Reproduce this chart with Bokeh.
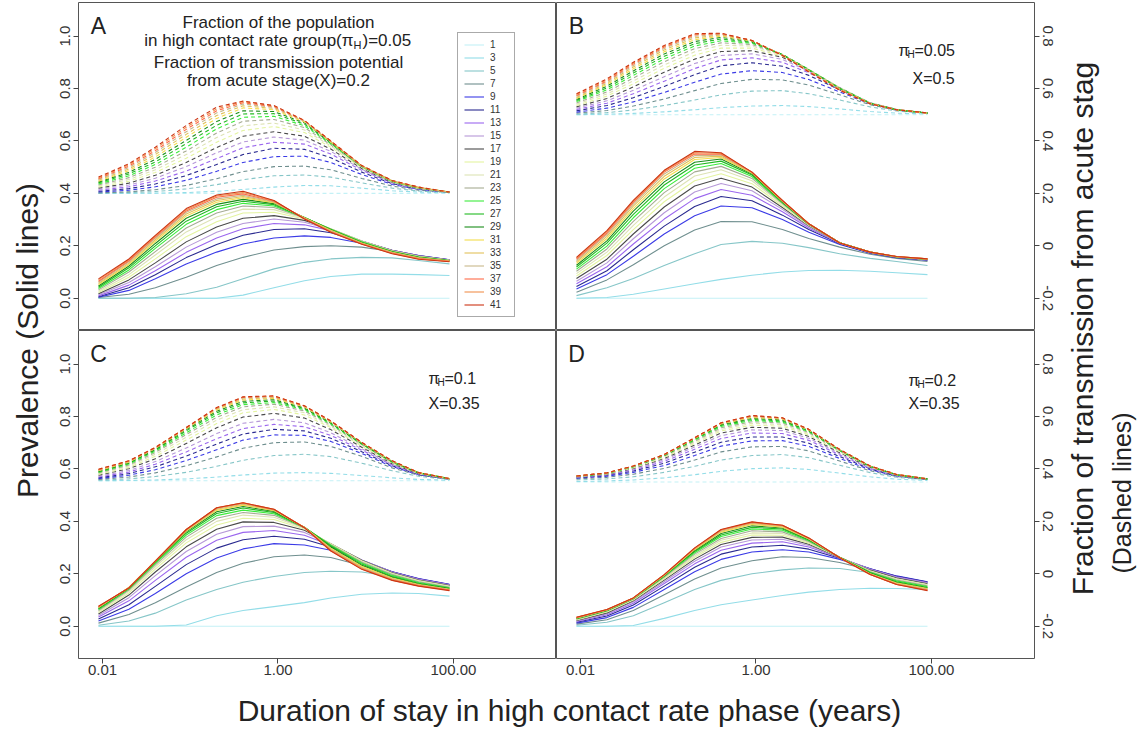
from math import pi
from bokeh.plotting import figure
from bokeh.models import (Range1d, LinearAxis, LogAxis, LogScale, FixedTicker,
                          PrintfTickFormatter, CustomJSTickFormatter, Legend,
                          LegendItem, Label)
from bokeh.layouts import row, column
from bokeh.embed import file_html
from bokeh.resources import INLINE

FONT = "Liberation Sans"

# ---------------- data ----------------
DURATION = [0.009, 0.02, 0.04, 0.09, 0.2, 0.4, 0.9, 2, 4, 9, 20, 40, 90]
SERIES = ["1", "3", "5", "7", "9", "11", "13", "15", "17", "19", "21",
          "23", "25", "27", "29", "31", "33", "35", "37", "39", "41"]
COLORS = ["#c4f1f6", "#93dde8", "#86c6c8", "#6f8f8f", "#3b3be6", "#2a2a90",
          "#9b66ee", "#b698d8", "#4a4a4a", "#e4f4a0", "#dde3b4", "#a6ab93",
          "#3cec3c", "#22bb22", "#1b8c1b", "#f3dc4c", "#e2c25a", "#c8b88a",
          "#ff6a48", "#f0904e", "#cc3414"]
PANELS = ["A", "B", "C", "D"]
PI_H = ["0.05", "0.05", "0.1", "0.2"]
X_ACUTE = ["0.2", "0.5", "0.35", "0.35"]
LEFT_TICKS = [0.0, 0.2, 0.4, 0.6, 0.8, 1.0]
RIGHT_TICKS = [-0.2, 0.0, 0.2, 0.4, 0.6, 0.8]
X_TICKS = [0.01, 1, 100]

# Prevalence (solid lines), left axis
SOLID_A = [
    [0, 0, 0, 0, 0, 0, 0, 0, 0, 0, 0, 0, 0],
    [0, 0, 0, 0, 0, 0.012, 0.04, 0.067, 0.083, 0.092, 0.092, 0.09, 0.087],
    [0, 0, 0.003, 0.017, 0.042, 0.074, 0.112, 0.137, 0.15, 0.156, 0.154, 0.144, 0.131],
    [0.003, 0.015, 0.04, 0.08, 0.125, 0.156, 0.184, 0.197, 0.2, 0.195, 0.178, 0.162, 0.145],
    [0.004, 0.03, 0.074, 0.131, 0.176, 0.207, 0.23, 0.238, 0.232, 0.21, 0.182, 0.163, 0.147],
    [0.006, 0.04, 0.09, 0.155, 0.205, 0.24, 0.262, 0.265, 0.25, 0.215, 0.183, 0.163, 0.147],
    [0.009, 0.05, 0.105, 0.175, 0.23, 0.265, 0.285, 0.28, 0.258, 0.217, 0.183, 0.162, 0.147],
    [0.013, 0.06, 0.12, 0.195, 0.252, 0.285, 0.302, 0.29, 0.262, 0.218, 0.183, 0.162, 0.146],
    [0.017, 0.07, 0.135, 0.215, 0.272, 0.305, 0.315, 0.297, 0.264, 0.218, 0.182, 0.161, 0.146],
    [0.022, 0.08, 0.15, 0.235, 0.292, 0.325, 0.328, 0.302, 0.265, 0.218, 0.181, 0.16, 0.145],
    [0.027, 0.09, 0.165, 0.253, 0.31, 0.34, 0.338, 0.305, 0.265, 0.217, 0.18, 0.159, 0.145],
    [0.032, 0.1, 0.178, 0.268, 0.325, 0.352, 0.346, 0.307, 0.264, 0.216, 0.179, 0.158, 0.144],
    [0.037, 0.108, 0.19, 0.282, 0.338, 0.362, 0.352, 0.308, 0.263, 0.215, 0.178, 0.157, 0.144],
    [0.042, 0.116, 0.2, 0.294, 0.349, 0.37, 0.357, 0.308, 0.262, 0.213, 0.177, 0.156, 0.143],
    [0.047, 0.123, 0.209, 0.305, 0.358, 0.377, 0.361, 0.308, 0.26, 0.212, 0.176, 0.155, 0.143],
    [0.052, 0.129, 0.217, 0.314, 0.366, 0.383, 0.364, 0.307, 0.259, 0.211, 0.175, 0.154, 0.142],
    [0.056, 0.134, 0.223, 0.321, 0.373, 0.388, 0.366, 0.306, 0.257, 0.21, 0.174, 0.153, 0.142],
    [0.061, 0.139, 0.229, 0.328, 0.379, 0.393, 0.368, 0.305, 0.256, 0.209, 0.173, 0.152, 0.141],
    [0.065, 0.143, 0.233, 0.333, 0.385, 0.398, 0.37, 0.304, 0.254, 0.208, 0.172, 0.151, 0.141],
    [0.07, 0.147, 0.237, 0.338, 0.39, 0.403, 0.372, 0.303, 0.253, 0.207, 0.171, 0.15, 0.14],
    [0.074, 0.15, 0.24, 0.342, 0.394, 0.408, 0.373, 0.302, 0.252, 0.206, 0.17, 0.149, 0.139],
]
SOLID_B = [
    [0, 0, 0, 0, 0, 0, 0, 0, 0, 0, 0, 0, 0],
    [0, 0.003, 0.015, 0.035, 0.055, 0.072, 0.088, 0.1, 0.106, 0.107, 0.103, 0.097, 0.09],
    [0.01, 0.04, 0.075, 0.125, 0.17, 0.205, 0.217, 0.21, 0.193, 0.17, 0.152, 0.14, 0.125],
    [0.023, 0.07, 0.128, 0.2, 0.26, 0.293, 0.292, 0.262, 0.228, 0.195, 0.168, 0.152, 0.14],
    [0.035, 0.09, 0.16, 0.245, 0.315, 0.352, 0.345, 0.3, 0.252, 0.205, 0.172, 0.155, 0.145],
    [0.045, 0.105, 0.185, 0.275, 0.35, 0.388, 0.372, 0.317, 0.262, 0.208, 0.173, 0.156, 0.146],
    [0.055, 0.12, 0.207, 0.302, 0.38, 0.415, 0.393, 0.33, 0.268, 0.21, 0.174, 0.157, 0.147],
    [0.065, 0.135, 0.227, 0.326, 0.405, 0.438, 0.41, 0.339, 0.273, 0.211, 0.175, 0.157, 0.147],
    [0.075, 0.149, 0.245, 0.348, 0.428, 0.458, 0.424, 0.346, 0.276, 0.212, 0.175, 0.157, 0.147],
    [0.085, 0.163, 0.262, 0.368, 0.448, 0.475, 0.437, 0.352, 0.278, 0.212, 0.176, 0.158, 0.148],
    [0.094, 0.176, 0.278, 0.386, 0.466, 0.49, 0.448, 0.357, 0.28, 0.212, 0.176, 0.158, 0.148],
    [0.103, 0.188, 0.293, 0.403, 0.482, 0.503, 0.457, 0.361, 0.281, 0.212, 0.176, 0.158, 0.148],
    [0.111, 0.199, 0.307, 0.418, 0.496, 0.514, 0.464, 0.364, 0.282, 0.212, 0.176, 0.158, 0.149],
    [0.119, 0.21, 0.32, 0.432, 0.508, 0.523, 0.47, 0.366, 0.283, 0.212, 0.176, 0.158, 0.149],
    [0.126, 0.219, 0.332, 0.444, 0.519, 0.531, 0.474, 0.368, 0.283, 0.212, 0.176, 0.158, 0.149],
    [0.133, 0.228, 0.342, 0.455, 0.529, 0.537, 0.477, 0.37, 0.284, 0.212, 0.176, 0.158, 0.149],
    [0.139, 0.236, 0.351, 0.465, 0.537, 0.542, 0.479, 0.371, 0.284, 0.211, 0.176, 0.158, 0.15],
    [0.144, 0.243, 0.359, 0.474, 0.544, 0.546, 0.48, 0.372, 0.284, 0.211, 0.176, 0.159, 0.15],
    [0.149, 0.249, 0.366, 0.481, 0.55, 0.549, 0.481, 0.372, 0.284, 0.211, 0.176, 0.159, 0.15],
    [0.153, 0.254, 0.37, 0.485, 0.555, 0.552, 0.481, 0.373, 0.284, 0.211, 0.176, 0.159, 0.15],
    [0.156, 0.258, 0.373, 0.488, 0.56, 0.555, 0.481, 0.373, 0.284, 0.211, 0.176, 0.159, 0.15],
]
SOLID_C = [
    [0, 0, 0, 0, 0, 0, 0, 0, 0, 0, 0, 0, 0],
    [0, 0, 0, 0.005, 0.04, 0.06, 0.075, 0.09, 0.108, 0.122, 0.127, 0.125, 0.115],
    [0.004, 0.02, 0.05, 0.1, 0.14, 0.168, 0.19, 0.205, 0.21, 0.207, 0.19, 0.17, 0.15],
    [0.012, 0.045, 0.09, 0.15, 0.205, 0.24, 0.265, 0.272, 0.262, 0.232, 0.2, 0.177, 0.155],
    [0.02, 0.065, 0.125, 0.2, 0.26, 0.295, 0.315, 0.31, 0.29, 0.248, 0.208, 0.182, 0.16],
    [0.028, 0.082, 0.152, 0.235, 0.298, 0.33, 0.343, 0.332, 0.302, 0.252, 0.208, 0.181, 0.159],
    [0.035, 0.097, 0.175, 0.263, 0.328, 0.358, 0.365, 0.347, 0.309, 0.253, 0.207, 0.18, 0.158],
    [0.041, 0.109, 0.193, 0.285, 0.351, 0.38, 0.382, 0.358, 0.313, 0.253, 0.206, 0.178, 0.157],
    [0.047, 0.119, 0.207, 0.303, 0.37, 0.398, 0.396, 0.366, 0.315, 0.252, 0.204, 0.176, 0.155],
    [0.052, 0.127, 0.218, 0.318, 0.386, 0.412, 0.407, 0.371, 0.315, 0.25, 0.202, 0.174, 0.153],
    [0.056, 0.133, 0.227, 0.33, 0.4, 0.424, 0.416, 0.374, 0.313, 0.247, 0.2, 0.172, 0.151],
    [0.06, 0.138, 0.234, 0.34, 0.412, 0.434, 0.423, 0.376, 0.311, 0.244, 0.197, 0.17, 0.149],
    [0.064, 0.142, 0.24, 0.348, 0.422, 0.443, 0.429, 0.377, 0.309, 0.241, 0.194, 0.167, 0.147],
    [0.067, 0.145, 0.244, 0.355, 0.43, 0.451, 0.434, 0.378, 0.306, 0.237, 0.19, 0.164, 0.145],
    [0.069, 0.147, 0.246, 0.36, 0.437, 0.457, 0.438, 0.378, 0.302, 0.233, 0.187, 0.161, 0.143],
    [0.071, 0.148, 0.247, 0.363, 0.442, 0.462, 0.441, 0.378, 0.298, 0.229, 0.184, 0.159, 0.141],
    [0.072, 0.148, 0.248, 0.365, 0.446, 0.465, 0.443, 0.377, 0.295, 0.225, 0.181, 0.157, 0.14],
    [0.073, 0.147, 0.248, 0.367, 0.449, 0.468, 0.444, 0.377, 0.292, 0.222, 0.179, 0.156, 0.139],
    [0.074, 0.147, 0.248, 0.368, 0.451, 0.47, 0.445, 0.377, 0.29, 0.22, 0.177, 0.155, 0.138],
    [0.075, 0.146, 0.248, 0.369, 0.452, 0.471, 0.446, 0.376, 0.288, 0.218, 0.176, 0.154, 0.137],
    [0.076, 0.146, 0.248, 0.369, 0.452, 0.471, 0.446, 0.376, 0.287, 0.217, 0.175, 0.153, 0.136],
]
SOLID_D = [
    [0, 0, 0, 0, 0, 0, 0, 0, 0, 0, 0, 0, 0],
    [0, 0, 0.003, 0.03, 0.06, 0.082, 0.1, 0.117, 0.13, 0.14, 0.145, 0.144, 0.14],
    [0.004, 0.015, 0.04, 0.09, 0.14, 0.175, 0.2, 0.215, 0.222, 0.22, 0.205, 0.185, 0.165],
    [0.008, 0.025, 0.06, 0.12, 0.18, 0.222, 0.25, 0.265, 0.262, 0.243, 0.215, 0.19, 0.168],
    [0.012, 0.033, 0.072, 0.14, 0.208, 0.255, 0.283, 0.292, 0.283, 0.255, 0.219, 0.192, 0.17],
    [0.015, 0.039, 0.081, 0.153, 0.225, 0.275, 0.302, 0.309, 0.294, 0.259, 0.219, 0.191, 0.169],
    [0.018, 0.044, 0.088, 0.163, 0.238, 0.29, 0.317, 0.322, 0.302, 0.261, 0.218, 0.189, 0.167],
    [0.02, 0.048, 0.093, 0.17, 0.248, 0.302, 0.329, 0.332, 0.308, 0.262, 0.216, 0.187, 0.165],
    [0.022, 0.051, 0.097, 0.176, 0.256, 0.312, 0.339, 0.34, 0.313, 0.262, 0.214, 0.184, 0.162],
    [0.024, 0.054, 0.1, 0.181, 0.263, 0.32, 0.348, 0.347, 0.317, 0.263, 0.212, 0.181, 0.159],
    [0.026, 0.056, 0.102, 0.185, 0.269, 0.328, 0.356, 0.354, 0.32, 0.263, 0.21, 0.179, 0.157],
    [0.027, 0.058, 0.104, 0.188, 0.275, 0.335, 0.364, 0.36, 0.323, 0.263, 0.208, 0.176, 0.154],
    [0.029, 0.059, 0.105, 0.19, 0.28, 0.342, 0.371, 0.366, 0.326, 0.263, 0.206, 0.173, 0.151],
    [0.03, 0.06, 0.106, 0.192, 0.285, 0.348, 0.377, 0.371, 0.329, 0.263, 0.204, 0.17, 0.148],
    [0.031, 0.061, 0.107, 0.193, 0.289, 0.354, 0.383, 0.375, 0.331, 0.262, 0.202, 0.167, 0.146],
    [0.032, 0.062, 0.107, 0.194, 0.292, 0.359, 0.388, 0.378, 0.333, 0.262, 0.2, 0.165, 0.144],
    [0.032, 0.062, 0.107, 0.195, 0.294, 0.362, 0.392, 0.381, 0.334, 0.262, 0.199, 0.163, 0.142],
    [0.033, 0.063, 0.108, 0.196, 0.296, 0.365, 0.395, 0.383, 0.335, 0.261, 0.198, 0.161, 0.14],
    [0.033, 0.063, 0.108, 0.196, 0.297, 0.367, 0.396, 0.384, 0.336, 0.261, 0.197, 0.16, 0.138],
    [0.034, 0.064, 0.108, 0.197, 0.298, 0.368, 0.397, 0.385, 0.337, 0.261, 0.197, 0.159, 0.137],
    [0.034, 0.064, 0.108, 0.197, 0.299, 0.369, 0.398, 0.385, 0.337, 0.261, 0.197, 0.159, 0.136],
]

# Fraction of transmission from acute stage (dashed lines), right axis
DASH_A = [
    [0.2, 0.2, 0.2, 0.2, 0.2, 0.2, 0.2, 0.2, 0.2, 0.2, 0.2, 0.2, 0.2],
    [0.2, 0.2, 0.201, 0.203, 0.208, 0.215, 0.224, 0.23, 0.229, 0.22, 0.21, 0.205, 0.202],
    [0.201, 0.203, 0.207, 0.217, 0.233, 0.252, 0.267, 0.27, 0.262, 0.24, 0.22, 0.209, 0.203],
    [0.202, 0.206, 0.214, 0.23, 0.256, 0.283, 0.302, 0.304, 0.29, 0.257, 0.228, 0.212, 0.204],
    [0.205, 0.212, 0.225, 0.25, 0.284, 0.318, 0.34, 0.342, 0.318, 0.272, 0.234, 0.215, 0.205],
    [0.208, 0.218, 0.236, 0.268, 0.31, 0.348, 0.372, 0.368, 0.336, 0.281, 0.237, 0.216, 0.205],
    [0.212, 0.225, 0.247, 0.285, 0.333, 0.374, 0.395, 0.388, 0.35, 0.288, 0.24, 0.217, 0.205],
    [0.216, 0.232, 0.258, 0.302, 0.355, 0.396, 0.415, 0.403, 0.36, 0.292, 0.241, 0.218, 0.205],
    [0.22, 0.239, 0.269, 0.318, 0.375, 0.418, 0.435, 0.418, 0.369, 0.295, 0.242, 0.219, 0.205],
    [0.224, 0.246, 0.28, 0.334, 0.395, 0.44, 0.455, 0.432, 0.376, 0.298, 0.243, 0.219, 0.205],
    [0.228, 0.253, 0.29, 0.348, 0.413, 0.458, 0.468, 0.442, 0.381, 0.3, 0.244, 0.22, 0.205],
    [0.232, 0.26, 0.3, 0.362, 0.43, 0.475, 0.482, 0.451, 0.385, 0.301, 0.245, 0.22, 0.205],
    [0.236, 0.267, 0.31, 0.376, 0.446, 0.49, 0.494, 0.458, 0.389, 0.302, 0.245, 0.221, 0.205],
    [0.24, 0.274, 0.32, 0.39, 0.46, 0.503, 0.504, 0.464, 0.392, 0.303, 0.246, 0.221, 0.205],
    [0.243, 0.28, 0.33, 0.402, 0.474, 0.515, 0.512, 0.469, 0.394, 0.304, 0.247, 0.222, 0.205],
    [0.246, 0.287, 0.339, 0.414, 0.486, 0.526, 0.519, 0.472, 0.396, 0.304, 0.247, 0.222, 0.205],
    [0.25, 0.293, 0.348, 0.425, 0.497, 0.534, 0.524, 0.475, 0.397, 0.305, 0.248, 0.223, 0.205],
    [0.253, 0.299, 0.356, 0.435, 0.507, 0.541, 0.528, 0.476, 0.398, 0.305, 0.248, 0.223, 0.205],
    [0.256, 0.304, 0.363, 0.444, 0.515, 0.546, 0.531, 0.477, 0.399, 0.306, 0.248, 0.224, 0.205],
    [0.259, 0.309, 0.37, 0.452, 0.522, 0.55, 0.533, 0.478, 0.4, 0.306, 0.249, 0.224, 0.205],
    [0.262, 0.313, 0.376, 0.459, 0.529, 0.552, 0.535, 0.478, 0.4, 0.306, 0.249, 0.224, 0.205],
]
DASH_B = [
    [0.5, 0.5, 0.5, 0.5, 0.5, 0.5, 0.5, 0.5, 0.5, 0.5, 0.5, 0.5, 0.5],
    [0.5, 0.502, 0.505, 0.511, 0.519, 0.527, 0.533, 0.535, 0.531, 0.522, 0.512, 0.506, 0.503],
    [0.502, 0.508, 0.518, 0.535, 0.556, 0.576, 0.59, 0.592, 0.58, 0.556, 0.53, 0.514, 0.505],
    [0.506, 0.516, 0.533, 0.56, 0.592, 0.619, 0.635, 0.633, 0.613, 0.576, 0.538, 0.517, 0.506],
    [0.51, 0.525, 0.549, 0.585, 0.624, 0.655, 0.668, 0.661, 0.634, 0.587, 0.541, 0.518, 0.506],
    [0.515, 0.535, 0.565, 0.608, 0.653, 0.687, 0.698, 0.685, 0.65, 0.595, 0.543, 0.519, 0.506],
    [0.52, 0.544, 0.58, 0.628, 0.676, 0.709, 0.717, 0.7, 0.66, 0.6, 0.545, 0.52, 0.506],
    [0.525, 0.553, 0.593, 0.645, 0.695, 0.726, 0.732, 0.711, 0.666, 0.602, 0.545, 0.52, 0.506],
    [0.53, 0.562, 0.606, 0.662, 0.712, 0.741, 0.744, 0.719, 0.67, 0.603, 0.545, 0.52, 0.506],
    [0.535, 0.571, 0.618, 0.677, 0.727, 0.754, 0.754, 0.724, 0.672, 0.603, 0.545, 0.52, 0.506],
    [0.54, 0.579, 0.629, 0.69, 0.74, 0.765, 0.762, 0.727, 0.673, 0.603, 0.545, 0.52, 0.506],
    [0.545, 0.587, 0.64, 0.702, 0.752, 0.774, 0.768, 0.729, 0.673, 0.602, 0.544, 0.52, 0.506],
    [0.55, 0.595, 0.65, 0.713, 0.762, 0.782, 0.773, 0.73, 0.672, 0.601, 0.544, 0.519, 0.506],
    [0.554, 0.602, 0.659, 0.723, 0.771, 0.789, 0.776, 0.73, 0.671, 0.6, 0.544, 0.519, 0.506],
    [0.558, 0.609, 0.667, 0.732, 0.779, 0.795, 0.779, 0.729, 0.669, 0.599, 0.543, 0.519, 0.506],
    [0.562, 0.615, 0.675, 0.74, 0.786, 0.8, 0.781, 0.728, 0.668, 0.598, 0.543, 0.519, 0.506],
    [0.566, 0.62, 0.682, 0.747, 0.793, 0.804, 0.782, 0.728, 0.667, 0.597, 0.543, 0.519, 0.506],
    [0.57, 0.625, 0.688, 0.753, 0.799, 0.807, 0.783, 0.727, 0.666, 0.596, 0.542, 0.519, 0.506],
    [0.573, 0.629, 0.693, 0.758, 0.804, 0.809, 0.783, 0.727, 0.665, 0.595, 0.542, 0.519, 0.506],
    [0.577, 0.633, 0.697, 0.761, 0.807, 0.81, 0.783, 0.726, 0.664, 0.594, 0.542, 0.519, 0.507],
    [0.58, 0.637, 0.7, 0.764, 0.809, 0.811, 0.783, 0.726, 0.663, 0.593, 0.542, 0.519, 0.507],
]
DASH_C = [
    [0.355, 0.355, 0.355, 0.355, 0.355, 0.355, 0.355, 0.355, 0.355, 0.355, 0.355, 0.355, 0.355],
    [0.355, 0.356, 0.358, 0.362, 0.369, 0.377, 0.384, 0.386, 0.383, 0.375, 0.366, 0.36, 0.357],
    [0.357, 0.362, 0.371, 0.387, 0.41, 0.433, 0.451, 0.456, 0.447, 0.422, 0.393, 0.372, 0.36],
    [0.36, 0.369, 0.385, 0.412, 0.446, 0.479, 0.5, 0.503, 0.486, 0.448, 0.404, 0.376, 0.361],
    [0.363, 0.376, 0.397, 0.432, 0.473, 0.51, 0.53, 0.528, 0.505, 0.459, 0.409, 0.378, 0.361],
    [0.366, 0.382, 0.408, 0.449, 0.495, 0.533, 0.551, 0.545, 0.517, 0.466, 0.412, 0.379, 0.362],
    [0.369, 0.388, 0.418, 0.465, 0.515, 0.554, 0.57, 0.561, 0.528, 0.472, 0.415, 0.38, 0.362],
    [0.372, 0.394, 0.428, 0.48, 0.535, 0.574, 0.589, 0.576, 0.538, 0.477, 0.417, 0.381, 0.362],
    [0.376, 0.401, 0.439, 0.497, 0.557, 0.598, 0.612, 0.594, 0.55, 0.483, 0.42, 0.382, 0.362],
    [0.379, 0.406, 0.448, 0.51, 0.573, 0.614, 0.627, 0.606, 0.558, 0.487, 0.422, 0.383, 0.362],
    [0.382, 0.411, 0.456, 0.521, 0.586, 0.626, 0.637, 0.614, 0.563, 0.49, 0.424, 0.384, 0.362],
    [0.385, 0.415, 0.463, 0.531, 0.597, 0.637, 0.647, 0.621, 0.568, 0.493, 0.425, 0.384, 0.363],
    [0.387, 0.419, 0.468, 0.538, 0.606, 0.645, 0.653, 0.626, 0.571, 0.495, 0.426, 0.385, 0.363],
    [0.389, 0.422, 0.472, 0.545, 0.614, 0.652, 0.659, 0.63, 0.574, 0.496, 0.427, 0.385, 0.363],
    [0.391, 0.424, 0.475, 0.55, 0.62, 0.658, 0.664, 0.633, 0.577, 0.498, 0.428, 0.385, 0.363],
    [0.393, 0.426, 0.478, 0.553, 0.625, 0.663, 0.669, 0.636, 0.579, 0.499, 0.429, 0.386, 0.363],
    [0.395, 0.428, 0.479, 0.555, 0.629, 0.667, 0.672, 0.638, 0.58, 0.5, 0.43, 0.386, 0.363],
    [0.396, 0.429, 0.48, 0.556, 0.631, 0.671, 0.675, 0.639, 0.581, 0.5, 0.43, 0.386, 0.363],
    [0.397, 0.43, 0.481, 0.557, 0.632, 0.673, 0.677, 0.64, 0.582, 0.501, 0.431, 0.386, 0.363],
    [0.398, 0.431, 0.482, 0.558, 0.633, 0.674, 0.678, 0.641, 0.583, 0.501, 0.431, 0.386, 0.363],
    [0.399, 0.431, 0.482, 0.558, 0.634, 0.675, 0.679, 0.641, 0.583, 0.501, 0.431, 0.386, 0.363],
]
DASH_D = [
    [0.35, 0.35, 0.35, 0.35, 0.35, 0.35, 0.35, 0.35, 0.35, 0.35, 0.35, 0.35, 0.35],
    [0.352, 0.354, 0.358, 0.366, 0.378, 0.391, 0.401, 0.404, 0.398, 0.384, 0.37, 0.361, 0.356],
    [0.358, 0.362, 0.37, 0.387, 0.41, 0.434, 0.451, 0.455, 0.443, 0.414, 0.386, 0.368, 0.359],
    [0.362, 0.368, 0.38, 0.402, 0.434, 0.465, 0.484, 0.486, 0.469, 0.43, 0.393, 0.371, 0.36],
    [0.365, 0.372, 0.387, 0.413, 0.451, 0.487, 0.507, 0.508, 0.486, 0.44, 0.397, 0.373, 0.361],
    [0.367, 0.375, 0.392, 0.422, 0.464, 0.502, 0.522, 0.522, 0.498, 0.447, 0.4, 0.374, 0.361],
    [0.368, 0.377, 0.396, 0.429, 0.475, 0.516, 0.537, 0.535, 0.509, 0.453, 0.402, 0.375, 0.361],
    [0.369, 0.379, 0.399, 0.435, 0.484, 0.527, 0.549, 0.546, 0.517, 0.458, 0.404, 0.376, 0.361],
    [0.37, 0.38, 0.402, 0.44, 0.491, 0.537, 0.559, 0.555, 0.524, 0.462, 0.406, 0.376, 0.361],
    [0.37, 0.381, 0.404, 0.444, 0.497, 0.545, 0.567, 0.563, 0.53, 0.465, 0.407, 0.377, 0.361],
    [0.371, 0.382, 0.406, 0.447, 0.502, 0.551, 0.574, 0.569, 0.535, 0.467, 0.408, 0.377, 0.362],
    [0.371, 0.383, 0.407, 0.449, 0.506, 0.557, 0.58, 0.575, 0.539, 0.469, 0.409, 0.377, 0.362],
    [0.372, 0.383, 0.408, 0.451, 0.51, 0.562, 0.585, 0.579, 0.542, 0.47, 0.409, 0.378, 0.362],
    [0.372, 0.384, 0.409, 0.452, 0.513, 0.566, 0.589, 0.583, 0.545, 0.471, 0.41, 0.378, 0.362],
    [0.372, 0.384, 0.41, 0.453, 0.515, 0.569, 0.593, 0.587, 0.547, 0.472, 0.41, 0.378, 0.362],
    [0.373, 0.384, 0.41, 0.454, 0.516, 0.572, 0.596, 0.59, 0.548, 0.473, 0.41, 0.378, 0.362],
    [0.373, 0.385, 0.41, 0.454, 0.517, 0.573, 0.599, 0.592, 0.549, 0.473, 0.411, 0.379, 0.362],
    [0.373, 0.385, 0.411, 0.455, 0.518, 0.574, 0.601, 0.593, 0.55, 0.474, 0.411, 0.379, 0.362],
    [0.373, 0.385, 0.411, 0.455, 0.518, 0.575, 0.602, 0.594, 0.55, 0.474, 0.411, 0.379, 0.362],
    [0.373, 0.385, 0.411, 0.455, 0.519, 0.576, 0.603, 0.595, 0.551, 0.474, 0.411, 0.379, 0.362],
    [0.373, 0.385, 0.411, 0.455, 0.519, 0.576, 0.604, 0.595, 0.551, 0.474, 0.411, 0.379, 0.362],
]

# ---------------- helpers ----------------
X_LO, X_HI = 10 ** -2.2735, 10 ** 3.174
Y_LO, Y_HI = -0.123, 1.128
R_LO, R_HI = -0.323, 0.928
AX_COLOR = "#444444"
TXT_COLOR = "#222222"


def panel(width, height, left, right, top, bottom):
    p = figure(width=width, height=height, x_axis_type="log",
               x_range=Range1d(X_LO, X_HI), y_range=Range1d(Y_LO, Y_HI),
               x_axis_location=None, y_axis_location=None,
               output_backend="svg", toolbar_location=None,
               min_border=0, min_border_left=left, min_border_right=right,
               min_border_top=top, min_border_bottom=bottom)
    p.x_scale = LogScale()
    p.extra_y_ranges = {"r": Range1d(R_LO, R_HI)}
    p.grid.grid_line_color = None
    p.outline_line_color = "#555555"
    p.outline_line_width = 1
    p.background_fill_color = "white"
    p.border_fill_color = "white"
    return p


def style_axis(ax):
    ax.axis_line_color = None
    ax.major_tick_line_color = AX_COLOR
    ax.major_tick_out = 5
    ax.major_tick_in = 0
    ax.minor_tick_line_color = None
    ax.major_label_text_font = FONT
    ax.major_label_text_font_size = "15px"
    ax.major_label_text_color = "#333333"


def add_left(p):
    ax = LinearAxis(ticker=FixedTicker(ticks=LEFT_TICKS),
                    formatter=PrintfTickFormatter(format="%.1f"))
    style_axis(ax)
    ax.major_label_orientation = "vertical"
    ax.major_label_standoff = 3
    p.add_layout(ax, "left")


def add_right(p):
    ax = LinearAxis(y_range_name="r", ticker=FixedTicker(ticks=RIGHT_TICKS),
                    formatter=CustomJSTickFormatter(
                        code="return Math.abs(tick) < 1e-9 ? '0' : tick.toFixed(1);"))
    style_axis(ax)
    ax.major_label_orientation = "vertical"
    ax.major_label_standoff = 3
    p.add_layout(ax, "right")


def add_bottom(p):
    ax = LogAxis(ticker=FixedTicker(ticks=X_TICKS),
                 formatter=PrintfTickFormatter(format="%.2f"))
    style_axis(ax)
    ax.major_label_standoff = 1
    p.add_layout(ax, "below")


def draw(p, solid, dash):
    rends = []
    for i in range(len(SERIES)):
        r = p.line(DURATION, solid[i], line_color=COLORS[i], line_width=1.1,
                   line_join="round")
        p.line(DURATION, dash[i], line_color=COLORS[i], line_width=1.1,
               line_dash="4 3", line_join="round", y_range_name="r")
        rends.append(r)
    return rends


def txt(p, x, y, s, size, align="left"):
    p.add_layout(Label(x=x, y=y, x_units="screen", y_units="screen", text=s,
                       text_font=FONT, text_font_size=f"{size}px",
                       text_align=align, text_baseline="middle",
                       text_color=TXT_COLOR))


def pi_label(p, x, y, value, size=16):
    txt(p, x, y, "\u03c0", size)
    txt(p, x + 9, y - 4, "H", 10)
    txt(p, x + 16, y, "=" + value, size)


# ---------------- panels ----------------
fA = panel(511, 330, 33, 0, 2, 0)
fB = panel(507, 330, 0, 29, 2, 0)
fC = panel(511, 354, 33, 0, 0, 26)
fD = panel(507, 354, 0, 29, 0, 26)

rendA = draw(fA, SOLID_A, DASH_A)
draw(fB, SOLID_B, DASH_B)
draw(fC, SOLID_C, DASH_C)
draw(fD, SOLID_D, DASH_D)

add_left(fA)
add_left(fC)
add_right(fB)
add_right(fD)
add_bottom(fC)
add_bottom(fD)

for p, letter in zip([fA, fB, fC, fD], PANELS):
    txt(p, 20, 305, letter, 23, "center")

# panel A header
txt(fA, 200, 308, "Fraction of the population", 17, "center")
txt(fA, 275, 290, "in high contact rate group(\u03c0", 17, "right")
txt(fA, 275, 286, "H", 11)
txt(fA, 284, 290, ")=" + PI_H[0], 17)
txt(fA, 200, 268, "Fraction of transmission potential", 17, "center")
txt(fA, 200, 250, "from acute stage(X)=" + X_ACUTE[0], 17, "center")

# panels B, C, D annotations
pi_label(fB, 342, 280, PI_H[1])
txt(fB, 356, 252, "X=" + X_ACUTE[1], 16)
pi_label(fC, 350, 280, PI_H[2])
txt(fC, 350, 255, "X=" + X_ACUTE[2], 16)
pi_label(fD, 352, 278, PI_H[3])
txt(fD, 352, 255, "X=" + X_ACUTE[3], 16)

# legend in panel A
items = [LegendItem(label=s, renderers=[r]) for s, r in zip(SERIES, rendA)]
legend = Legend(items=items, location=(379, 13), orientation="vertical",
                label_text_font=FONT, label_text_font_size="10px",
                label_text_color="#333333", label_height=11, glyph_height=11,
                glyph_width=20, spacing=2, padding=6, margin=0,
                label_standoff=6, label_width=18,
                border_line_color="#555555", border_line_width=1,
                background_fill_color="white", background_fill_alpha=1.0)
fA.add_layout(legend)


# ---------------- outer titles ----------------
def title_fig(w, h):
    t = figure(width=w, height=h, x_range=Range1d(0, w), y_range=Range1d(0, h),
               x_axis_location=None, y_axis_location=None,
               output_backend="svg", toolbar_location=None, min_border=0)
    t.grid.grid_line_color = None
    t.outline_line_color = None
    return t


def title_text(t, x, y, s, size, angle=0.0):
    t.add_layout(Label(x=x, y=y, text=s, angle=angle, text_font=FONT,
                       text_font_size=f"{size}px", text_align="center",
                       text_baseline="middle", text_color=TXT_COLOR))


left_t = title_fig(45, 684)
title_text(left_t, 27, 344, "Prevalence (Solid lines)", 30, pi / 2)

right_t = title_fig(84, 684)
title_text(right_t, 19, 356, "Fraction of transmission from acute stag", 30, pi / 2)
title_text(right_t, 58, 195, "(Dashed  lines)", 25, pi / 2)

bottom_t = title_fig(1147, 48)
title_text(bottom_t, 569, 22, "Duration of stay in high contact rate phase (years)", 30)

grid = column(row(fA, fB), row(fC, fD))
layout = column(row(left_t, grid, right_t), bottom_t)

open("out.html", "w").write(file_html(layout, INLINE))
